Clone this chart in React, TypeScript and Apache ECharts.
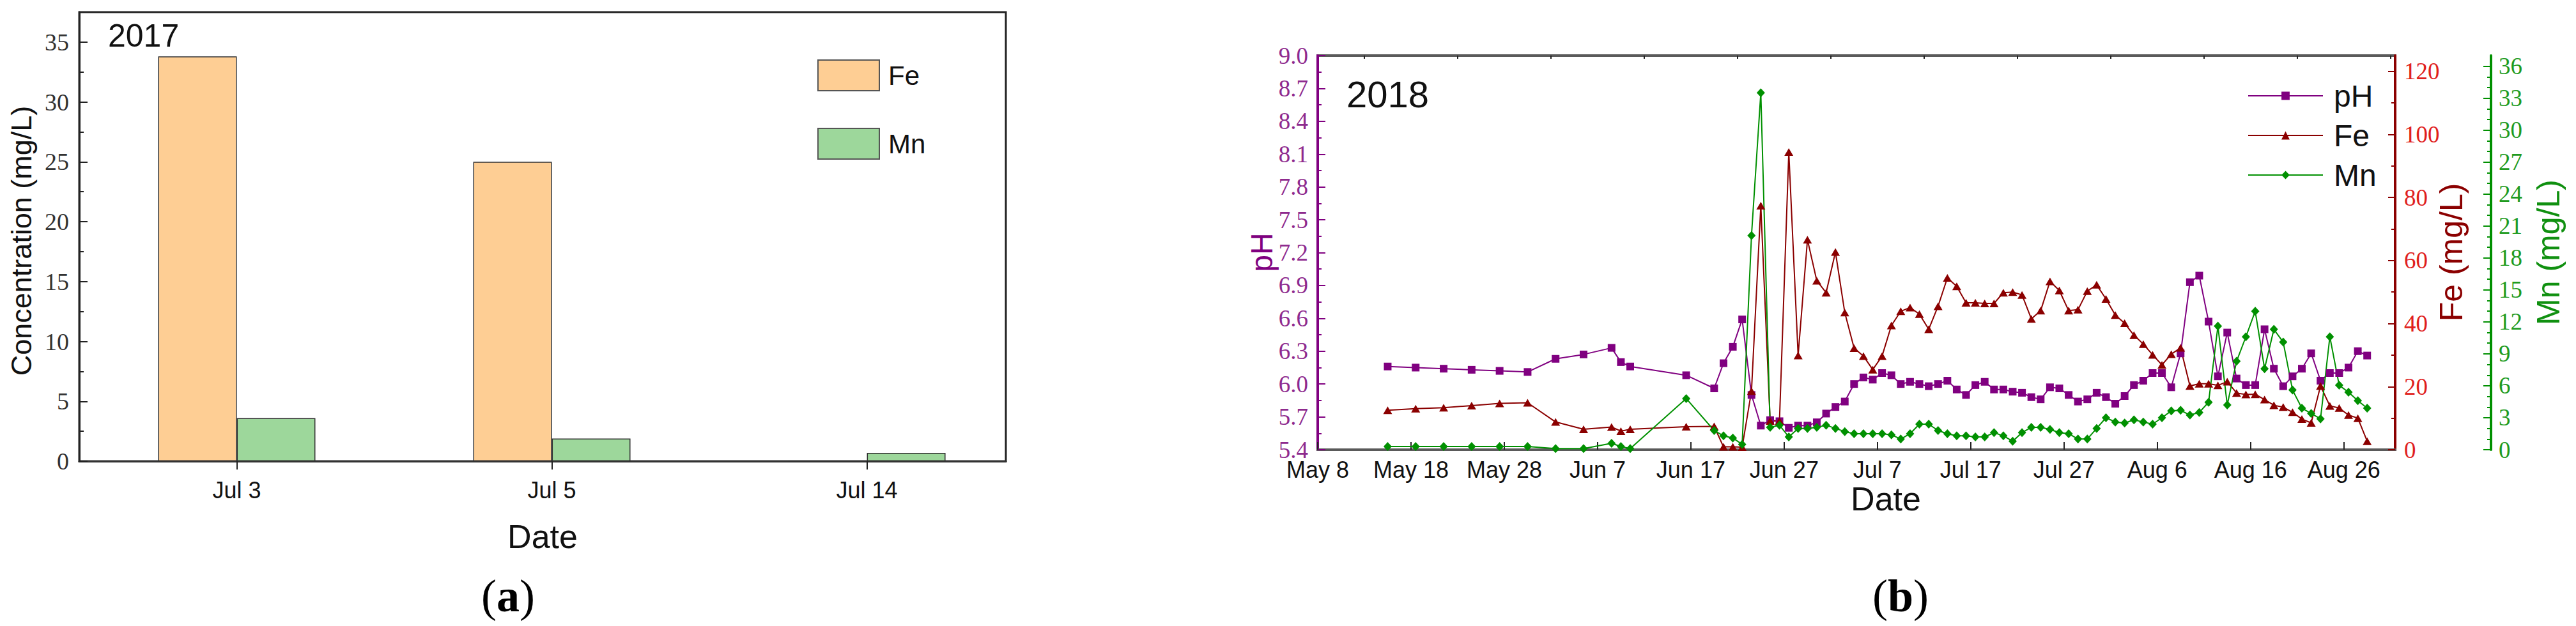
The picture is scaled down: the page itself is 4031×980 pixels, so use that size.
import React, { useEffect, useRef } from "react";
import * as echarts from "echarts";

// ---------- Panel (a): 2017 ----------
const categories2017 = ["Jul 3", "Jul 5", "Jul 14"];
const fe2017 = [33.8, 25.0, 0];
const mn2017 = [3.6, 1.9, 0.7];

// ---------- Panel (b): 2018 (samples taken at noon) ----------
const dates2018 = [
  "05-15", "05-18", "05-21", "05-24", "05-27", "05-30", "06-02", "06-05", "06-08", "06-09", "06-10", "06-16",
  "06-19", "06-20", "06-21", "06-22", "06-23", "06-24", "06-25", "06-26", "06-27", "06-28", "06-29", "06-30",
  "07-01", "07-02", "07-03", "07-04", "07-05", "07-06", "07-07", "07-08", "07-09", "07-10", "07-11", "07-12",
  "07-13", "07-14", "07-15", "07-16", "07-17", "07-18", "07-19", "07-20", "07-21", "07-22", "07-23", "07-24",
  "07-25", "07-26", "07-27", "07-28", "07-29", "07-30", "07-31",
  "08-01", "08-02", "08-03", "08-04", "08-05", "08-06", "08-07", "08-08", "08-09", "08-10", "08-11", "08-12",
  "08-13", "08-14", "08-15", "08-16", "08-17", "08-18", "08-19", "08-20", "08-21", "08-22", "08-23", "08-24",
  "08-25", "08-26", "08-27", "08-28",
];
const ph2018 = [
  6.16, 6.15, 6.14, 6.13, 6.12, 6.11, 6.23, 6.27, 6.33, 6.2, 6.16, 6.08,
  5.96, 6.19, 6.34, 6.59, 5.9, 5.62, 5.67, 5.66, 5.6, 5.62, 5.62, 5.65,
  5.73, 5.79, 5.84, 6.0, 6.06, 6.04, 6.1, 6.08, 6.0, 6.02, 6.0, 5.98,
  6.0, 6.03, 5.95, 5.9, 5.99, 6.02, 5.95, 5.95, 5.93, 5.92, 5.88, 5.86,
  5.97, 5.96, 5.9, 5.84, 5.86, 5.92, 5.88,
  5.82, 5.89, 5.99, 6.03, 6.1, 6.1, 5.97, 6.28, 6.93, 6.99, 6.57, 6.07,
  6.47, 6.05, 5.99, 5.99, 6.5, 6.14, 5.98, 6.07, 6.14, 6.28, 6.03, 6.1,
  6.1, 6.15, 6.3, 6.26,
];
const fe2018 = [
  12.5, 13.0, 13.3, 14.0, 14.7, 14.9, 8.8, 6.5, 7.2, 5.9, 6.5, 7.3,
  7.4, 0.9, 0.9, 0.8, 18.6, 77.4, 9.1, 9.1, 94.4, 29.9, 66.6, 53.6,
  49.8, 62.7, 43.5, 32.2, 29.7, 25.4, 29.7, 39.4, 43.9, 45.1, 43.0, 38.2,
  45.5, 54.5, 51.8, 46.6, 46.6, 46.4, 46.4, 49.8, 50.0, 49.1, 41.5, 44.1,
  53.4, 50.5, 44.1, 44.4, 50.3, 52.3, 47.8,
  42.7, 40.1, 36.3, 33.5, 30.1, 26.9, 30.3, 32.3, 20.2, 20.9, 20.9, 20.4,
  21.6, 18.0, 17.5, 17.6, 15.9, 14.1, 13.5, 11.9, 9.7, 8.5, 20.2, 13.9,
  13.2, 11.0, 10.0, 2.7,
];
const mn2018 = [
  0.3, 0.3, 0.3, 0.3, 0.3, 0.3, 0.1, 0.1, 0.6, 0.3, 0.1, 4.8,
  1.8, 1.3, 1.1, 0.5, 20.1, 33.5, 2.1, 2.3, 1.2, 2.0, 2.0, 2.1,
  2.3, 2.0, 1.7, 1.5, 1.5, 1.5, 1.5, 1.4, 1.0, 1.5, 2.4, 2.4,
  1.8, 1.5, 1.3, 1.3, 1.2, 1.2, 1.6, 1.3, 0.8, 1.6, 2.1, 2.1,
  1.9, 1.6, 1.5, 1.0, 1.0, 2.0, 3.0,
  2.6, 2.5, 2.8, 2.6, 2.4, 3.0, 3.65, 3.7, 3.25, 3.5, 4.45, 11.6,
  4.2, 8.3, 10.6, 13.0, 7.6, 11.3, 10.1, 5.6, 3.9, 3.4, 2.9, 10.6,
  6.05, 5.4, 4.6, 3.9,
];

// Axis definitions
const xStart2018 = "2018-05-08";
const xDays2018 = 115.5; // May 8 -> Aug 31 noon
const dateTickDays = [0, 10, 20, 30, 40, 50, 60, 70, 80, 90, 100, 110];
const dateMinorDays = [5, 15, 25, 35, 45, 55, 65, 75, 85, 95, 105, 115];
const concTicks2017 = [0, 5, 10, 15, 20, 25, 30, 35];
const concMinor2017 = [2.5, 7.5, 12.5, 17.5, 22.5, 27.5, 32.5];
const phTicks = [5.4, 5.7, 6.0, 6.3, 6.6, 6.9, 7.2, 7.5, 7.8, 8.1, 8.4, 8.7, 9.0];
const phMinor = [5.55, 5.85, 6.15, 6.45, 6.75, 7.05, 7.35, 7.65, 7.95, 8.25, 8.55, 8.85];
const feTicks = [0, 20, 40, 60, 80, 100, 120];
const feMinor = [10, 30, 50, 70, 90, 110];
const mnTicks = [0, 3, 6, 9, 12, 15, 18, 21, 24, 27, 30, 33, 36];
const mnMinor = [1, 2, 4, 5, 7, 8, 10, 11, 13, 14, 16, 17, 19, 20, 22, 23, 25, 26, 28, 29, 31, 32, 34, 35];

const MONTHS = ["Jan", "Feb", "Mar", "Apr", "May", "Jun", "Jul", "Aug", "Sep", "Oct", "Nov", "Dec"];
const BASE = Date.parse(xStart2018 + "T00:00:00Z");
const DAY = 86400000;
const dayOf = (md: string) => (Date.parse(`2018-${md}T12:00:00Z`) - BASE) / DAY;
const dayLabel = (v: number) => {
  const d = new Date(BASE + Math.round(v) * DAY);
  return `${MONTHS[d.getUTCMonth()]} ${d.getUTCDate()}`;
};

const PURPLE = "#800080";
const FE_DARK = "#8B0000";
const FE_LABEL = "#E0201C";
const MN = "#009000";
const MN_LABEL = "#1E9B1E";
const SERIF = "Liberation Serif";
const SANS = "Liberation Sans";

function minorAxis(extra: any) {
  return {
    type: "value",
    axisLine: { show: false, onZero: false },
    axisLabel: { show: false },
    splitLine: { show: false },
    ...extra,
  };
}

export default function App() {
  const ref = useRef<HTMLDivElement>(null);

  useEffect(() => {
    if (!ref.current) return;
    const chart = echarts.init(ref.current, undefined, { renderer: "svg" });

    const days = dates2018.map(dayOf);
    const phData = days.map((d, i) => [d, ph2018[i]]);
    const feData = days.map((d, i) => [d, fe2018[i]]);
    const mnData = days.map((d, i) => [d, mn2018[i]]);

    const option: any = {
      animation: false,
      backgroundColor: "#ffffff",
      grid: [
        { left: 124, top: 19, width: 1450, height: 703, show: true, borderColor: "#222", borderWidth: 3, backgroundColor: "transparent" },
        { left: 2062, top: 87, width: 1686, height: 617, show: true, borderColor: "#5a5a5a", borderWidth: 4, backgroundColor: "transparent" },
      ],
      xAxis: [
        {
          gridIndex: 0,
          type: "value",
          min: -0.5,
          max: 2.441,
          axisLine: { onZero: false, lineStyle: { color: "#333", width: 3 } },
          axisTick: { customValues: [0, 1, 2], inside: false, length: 13, lineStyle: { color: "#222", width: 2 } },
          axisLabel: {
            customValues: [0, 1, 2],
            formatter: (v: number) => categories2017[Math.round(v)],
            fontSize: 36,
            fontFamily: SANS,
            color: "#111",
            margin: 27,
          },
          splitLine: { show: false },
        },
        {
          gridIndex: 1,
          type: "value",
          min: 0,
          max: xDays2018,
          axisLine: { onZero: false, lineStyle: { color: "#5a5a5a", width: 4 } },
          axisTick: { customValues: dateTickDays, inside: true, length: 12, lineStyle: { color: "#222", width: 2 } },
          axisLabel: {
            customValues: dateTickDays,
            formatter: (v: number) => dayLabel(v),
            fontSize: 36,
            lineHeight: 30,
            fontFamily: SANS,
            color: "#111",
            margin: 16,
          },
          splitLine: { show: false },
        },
        minorAxis({
          gridIndex: 1,
          min: 0,
          max: xDays2018,
          axisTick: { customValues: dateMinorDays, inside: true, length: 5, lineStyle: { color: "#222", width: 2 } },
        }),
      ],
      yAxis: [
        {
          gridIndex: 0,
          type: "value",
          position: "left",
          min: 0,
          max: 37.5,
          axisLine: { onZero: false, lineStyle: { color: "#222", width: 3 } },
          axisTick: { customValues: concTicks2017, inside: true, length: 13, lineStyle: { color: "#222", width: 2 } },
          axisLabel: { customValues: concTicks2017, fontSize: 38, fontFamily: SERIF, color: "#333", margin: 16 },
          splitLine: { show: false },
        },
        minorAxis({
          gridIndex: 0,
          position: "left",
          min: 0,
          max: 37.5,
          axisTick: { customValues: concMinor2017, inside: true, length: 7, lineStyle: { color: "#222", width: 2 } },
        }),
        {
          gridIndex: 1,
          type: "value",
          position: "left",
          min: 5.4,
          max: 9.0,
          axisLine: { onZero: false, lineStyle: { color: PURPLE, width: 4 } },
          axisTick: { customValues: phTicks, inside: true, length: 12, lineStyle: { color: PURPLE, width: 2 } },
          axisLabel: {
            customValues: phTicks,
            formatter: (v: number) => v.toFixed(1),
            fontSize: 37,
            lineHeight: 28,
            fontFamily: SERIF,
            color: "#8E2A8E",
            margin: 15,
          },
          splitLine: { show: false },
        },
        minorAxis({
          gridIndex: 1,
          position: "left",
          min: 5.4,
          max: 9.0,
          axisTick: { customValues: phMinor, inside: true, length: 6, lineStyle: { color: PURPLE, width: 2 } },
        }),
        {
          gridIndex: 1,
          type: "value",
          position: "right",
          min: 0,
          max: 125,
          axisLine: { onZero: false, lineStyle: { color: FE_DARK, width: 4 } },
          axisTick: { customValues: feTicks, inside: true, length: 11, lineStyle: { color: FE_DARK, width: 2 } },
          axisLabel: { customValues: feTicks, fontSize: 37, fontFamily: SERIF, color: FE_LABEL, margin: 14 },
          splitLine: { show: false },
        },
        minorAxis({
          gridIndex: 1,
          position: "right",
          min: 0,
          max: 125,
          axisTick: { customValues: feMinor, inside: true, length: 6, lineStyle: { color: FE_DARK, width: 2 } },
        }),
        {
          gridIndex: 1,
          type: "value",
          position: "right",
          offset: 150,
          min: 0,
          max: 37,
          axisLine: { onZero: false, lineStyle: { color: MN, width: 4 } },
          axisTick: { customValues: mnTicks, inside: true, length: 12, lineStyle: { color: MN, width: 2 } },
          axisLabel: { customValues: mnTicks, fontSize: 37, fontFamily: SERIF, color: MN_LABEL, margin: 12 },
          splitLine: { show: false },
        },
        minorAxis({
          gridIndex: 1,
          position: "right",
          offset: 150,
          min: 0,
          max: 37,
          axisTick: { customValues: mnMinor, inside: true, length: 6, lineStyle: { color: MN, width: 2 } },
        }),
      ],
      legend: [
        {
          data: ["Fe", "Mn"],
          left: 1274,
          top: 88,
          orient: "vertical",
          icon: "rect",
          itemWidth: 96,
          itemHeight: 48,
          itemGap: 57,
          selectedMode: false,
          itemStyle: { borderColor: "#555", borderWidth: 2 },
          textStyle: { fontSize: 42, fontFamily: SANS, color: "#111", padding: [0, 0, 0, 9] },
        },
        {
          data: ["pH", "Fe 2018", "Mn 2018"],
          formatter: (name: string) => name.split(" ")[0],
          left: 3512,
          top: 121,
          orient: "vertical",
          itemWidth: 117,
          itemHeight: 16,
          itemGap: 14,
          selectedMode: false,
          textStyle: { fontSize: 48, lineHeight: 48, fontFamily: SANS, color: "#111", padding: [0, 0, 0, 12] },
        },
      ],
      series: [
        {
          name: "Fe",
          type: "bar",
          xAxisIndex: 0,
          yAxisIndex: 0,
          barWidth: 123,
          barGap: "0%",
          data: fe2017.map((v, i) => [i, v]),
          itemStyle: { color: "#FECE94", borderColor: "#333", borderWidth: 1.5 },
        },
        {
          name: "Mn",
          type: "bar",
          xAxisIndex: 0,
          yAxisIndex: 0,
          barWidth: 123,
          barGap: "0%",
          data: mn2017.map((v, i) => [i, v]),
          itemStyle: { color: "#9DD79B", borderColor: "#333", borderWidth: 1.5 },
        },
        {
          name: "pH",
          type: "line",
          xAxisIndex: 1,
          yAxisIndex: 2,
          data: phData,
          symbol: "rect",
          symbolSize: 12,
          clip: false,
          lineStyle: { color: PURPLE, width: 2 },
          itemStyle: { color: PURPLE },
        },
        {
          name: "Fe 2018",
          type: "line",
          xAxisIndex: 1,
          yAxisIndex: 4,
          data: feData,
          symbol: "triangle",
          symbolSize: [14, 12],
          clip: false,
          lineStyle: { color: FE_DARK, width: 2 },
          itemStyle: { color: FE_DARK },
        },
        {
          name: "Mn 2018",
          type: "line",
          xAxisIndex: 1,
          yAxisIndex: 6,
          data: mnData,
          symbol: "diamond",
          symbolSize: [13, 14],
          clip: false,
          lineStyle: { color: MN, width: 2 },
          itemStyle: { color: MN },
        },
      ],
      graphic: [
        { type: "text", x: 169, y: 56, style: { text: "2017", font: `50px ${SANS}`, fill: "#111", textAlign: "left", textVerticalAlign: "middle" } },
        { type: "text", x: 33, y: 377, rotation: Math.PI / 2, style: { text: "Concentration (mg/L)", font: `45px ${SANS}`, fill: "#111", textAlign: "center", textVerticalAlign: "middle" } },
        { type: "text", x: 849, y: 840, style: { text: "Date", font: `52px ${SANS}`, fill: "#111", textAlign: "center", textVerticalAlign: "middle" } },
        {
          type: "text", x: 795, y: 933,
          style: { text: "({b|a})", font: `72px ${SERIF}`, fill: "#000", textAlign: "center", textVerticalAlign: "middle", rich: { b: { fontWeight: "bold", fontSize: 72, fontFamily: SERIF } } },
        },
        { type: "text", x: 2107, y: 147, style: { text: "2018", font: `58px ${SANS}`, fill: "#111", textAlign: "left", textVerticalAlign: "middle" } },
        { type: "text", x: 1974, y: 395, rotation: Math.PI / 2, style: { text: "pH", font: `48px ${SANS}`, fill: PURPLE, textAlign: "center", textVerticalAlign: "middle" } },
        { type: "text", x: 3836, y: 395, rotation: Math.PI / 2, style: { text: "Fe (mg/L)", font: `50px ${SANS}`, fill: FE_DARK, textAlign: "center", textVerticalAlign: "middle" } },
        { type: "text", x: 3988, y: 395, rotation: Math.PI / 2, style: { text: "Mn (mg/L)", font: `50px ${SANS}`, fill: "#109010", textAlign: "center", textVerticalAlign: "middle" } },
        { type: "text", x: 2951, y: 781, style: { text: "Date", font: `52px ${SANS}`, fill: "#111", textAlign: "center", textVerticalAlign: "middle" } },
        {
          type: "text", x: 2974, y: 933,
          style: { text: "({b|b})", font: `72px ${SERIF}`, fill: "#000", textAlign: "center", textVerticalAlign: "middle", rich: { b: { fontWeight: "bold", fontSize: 72, fontFamily: SERIF } } },
        },
      ],
    };

    chart.setOption(option);
    return () => chart.dispose();
  }, []);

  return (
    <div
      ref={ref}
      style={{ position: "absolute", left: 0, top: 0, width: 4031, height: 980, background: "#fff" }}
    />
  );
}
